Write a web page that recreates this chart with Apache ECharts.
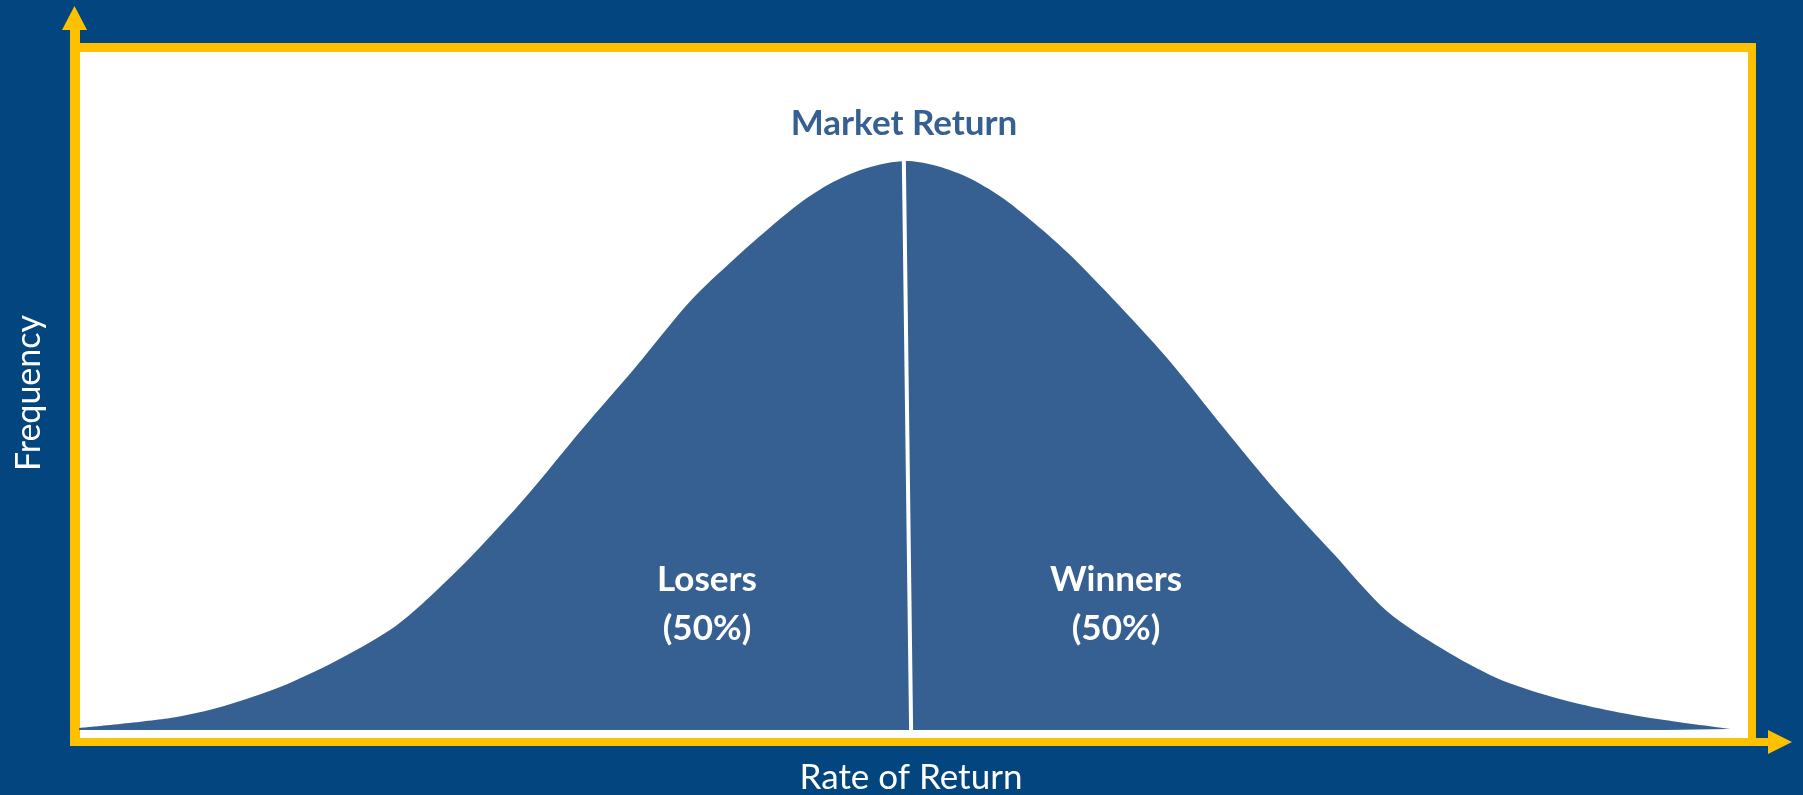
<!DOCTYPE html>
<html>
<head>
<meta charset="utf-8">
<script src="https://cdn.jsdelivr.net/npm/echarts@6/dist/echarts.min.js"></script>
<style>
html,body{margin:0;padding:0;background:#02457F;}
#chart{width:1803px;height:795px;}
</style>
</head>
<body>
<div id="chart"></div>
<script>
// Rate of return (in standard-deviation units)
const returnsX = [-4.00,-3.56,-3.30,-3.03,-2.77,-2.50,-2.35,-2.11,-1.84,-1.58,-1.31,-1.05,-0.844,-0.680,-0.521,-0.362,-0.198,-0.01,
                  0.121,0.285,0.45,0.603,0.767,0.98,1.25,1.52,1.78,2.05,2.31,2.58,2.84,3.11,3.37,3.65,3.97];
// Frequency
const frequencyY = [0.0014,0.0084,0.0169,0.0302,0.0478,0.0703,0.0879,0.1216,0.1645,0.2102,0.2559,0.3016,0.3304,0.3515,0.3705,0.3852,0.3951,0.4000,
                    0.3972,0.3888,0.3747,0.3571,0.3360,0.3044,0.2615,0.2130,0.1673,0.1244,0.0837,0.0569,0.0366,0.0232,0.0141,0.0070,0.0007];
// Market return divider (top, bottom)
const dividerX = [-0.02, 0.015];
const dividerY = [0.400, 0.0];
const axisNames = ['Rate of Return', 'Frequency'];
const marketLabel = 'Market Return';
const segmentLabels = ['Losers\n(50%)', 'Winners\n(50%)'];

const curve = returnsX.map((x, i) => [x, frequencyY[i]]);
const divider = dividerX.map((x, i) => [x, dividerY[i]]);

const YEL = '#FFC000';
const FILL = '#376092';
const chart = echarts.init(document.getElementById('chart'));
chart.setOption({
  backgroundColor: '#02457F',
  animation: false,
  grid: {left: 79, right: 66, top: 161, bottom: 65},
  xAxis: {type: 'value', min: -4, max: 4, show: false},
  yAxis: {type: 'value', min: 0, max: 0.4, show: false},
  graphic: [
    {type: 'rect', z: 0, shape: {x: 80, y: 52, width: 1668, height: 686}, style: {fill: '#fff'}},
    {type: 'line', z: 1, shape: {x1: 75, y1: 28, x2: 75, y2: 742}, style: {stroke: YEL, lineWidth: 10}},
    {type: 'line', z: 1, shape: {x1: 70, y1: 47.5, x2: 1756, y2: 47.5}, style: {stroke: YEL, lineWidth: 9}},
    {type: 'line', z: 1, shape: {x1: 1752, y1: 43, x2: 1752, y2: 742}, style: {stroke: YEL, lineWidth: 8}},
    {type: 'line', z: 1, shape: {x1: 70, y1: 742, x2: 1770, y2: 742}, style: {stroke: YEL, lineWidth: 8}},
    {type: 'polygon', z: 1, shape: {points: [[62, 30], [74.5, 6], [87, 30]]}, style: {fill: YEL}},
    {type: 'polygon', z: 1, shape: {points: [[1768, 730], [1792, 742], [1768, 754]]}, style: {fill: YEL}},
    {type: 'text', z: 5, x: 904, y: 124, style: {text: marketLabel, fill: FILL, font: 'bold 35px Lato', align: 'center', verticalAlign: 'middle'}},
    {type: 'text', z: 5, x: 707, y: 604, style: {text: segmentLabels[0], fill: '#fff', font: 'bold 35px Lato', lineHeight: 49, align: 'center', verticalAlign: 'middle'}},
    {type: 'text', z: 5, x: 1116, y: 604, style: {text: segmentLabels[1], fill: '#fff', font: 'bold 35px Lato', lineHeight: 49, align: 'center', verticalAlign: 'middle'}},
    {type: 'text', z: 5, x: 911, y: 778, style: {text: axisNames[0], fill: '#fff', font: '35px Lato', align: 'center', verticalAlign: 'middle'}},
    {type: 'text', z: 5, x: 29, y: 393, rotation: Math.PI / 2, style: {text: axisNames[1], fill: '#fff', font: '34px Lato', align: 'center', verticalAlign: 'middle'}}
  ],
  series: [
    {type: 'line', data: curve, smooth: 0.3, showSymbol: false, z: 3,
     lineStyle: {width: 0}, areaStyle: {color: FILL, opacity: 1}},
    {type: 'line', data: divider, showSymbol: false, z: 4,
     lineStyle: {color: '#fff', width: 4}}
  ]
});
</script>
</body>
</html>
